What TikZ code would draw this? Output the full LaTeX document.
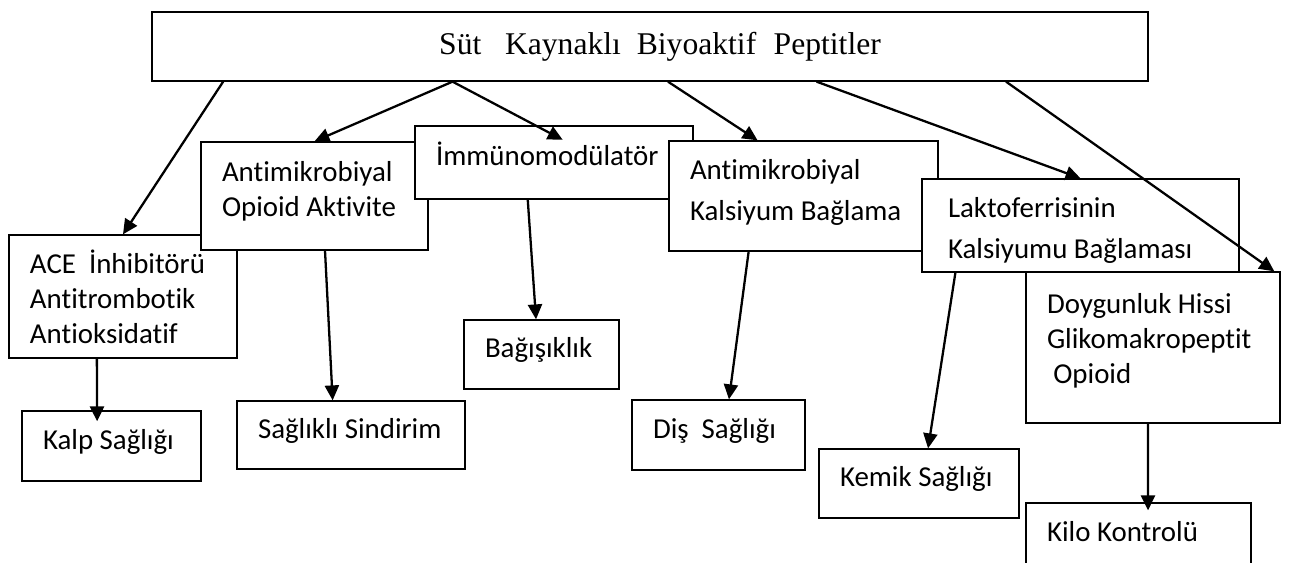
\documentclass[tikz,border=0pt]{standalone}
\usepackage{fontspec}
\setmainfont{Carlito}[Ligatures=NoCommon]
\newfontfamily\serifface{Liberation Serif}
\usetikzlibrary{calc,arrows.meta}
\newdimen\px \px=0.02cm
\hyphenpenalty=10000

\begin{document}
\begin{tikzpicture}[x=0.02cm, y=-0.02cm,
    bx/.style={draw, fill=white, line width=0.75pt, inner xsep=21\px, inner ysep=0pt,
      align=flush left, font=\fontsize{16.44}{20.1}\selectfont},
    oneline/.style={text height=14\px, text depth=8\px},
    arr/.style={-{Triangle[length=8.5pt, width=8pt]}, line width=1.3pt}]

    \useasboundingbox (0,0) rectangle (1290,563);
    \clip (0,0) rectangle (1290,563);

    % === Top box ===
    \node[draw, line width=0.75pt, minimum width=996\px, minimum height=69\px, inner sep=0pt,
      font=\serifface\fontsize{18}{22}\selectfont] (top) at (650,46.5)
      {\hspace*{20\px}Süt\hspace{0.75em}Kaynaklı\hspace{0.5em}Biyoaktif\hspace{0.55em}Peptitler};

    % === First row (later boxes lie over earlier ones) ===
    \node[bx, text width=186\px, minimum height=123\px, text height=24\px] (ace) at (123,296.5)
      {ACE~~İnhibitörü\\Antitrombotik\\Antioksidatif};
    \node[bx, text width=185\px, minimum height=108\px, text height=10\px] (opioid) at (314.5,196)
      {Antimikrobiyal\\Opioid~Aktivite};
    \node[bx, oneline, text width=236\px, minimum height=73\px] (imm) at (554,162.5)
      {İmmünomodülatör};
    \node[bx, text width=227\px, minimum height=110\px, text height=13.5\px] (akal) at (803.5,196)
      {Antimikrobiyal\\[5.5\px]Kalsiyum~Bağlama};
    \node[bx, inner xsep=26\px, text width=265\px, minimum height=93\px, text height=30.5\px] (lakto) at (1080.5,225.5)
      {Laktoferrisinin\\[5.5\px]Kalsiyumu~Bağlaması};
    \node[bx, text width=212\px, minimum height=151\px, text height=7\px] (doyg) at (1153,347.5)
      {Doygunluk~Hissi\\Glikomakropeptit\\\hspace*{0.22em}Opioid};

    % === Second row ===
    \node[bx, oneline, text width=137\px, minimum height=70\px] (kalp) at (111.5,446) {Kalp~Sağlığı};
    \node[bx, oneline, text width=186\px, minimum height=68\px] (sind) at (351,435) {Sağlıklı~Sindirim};
    \node[bx, oneline, text width=113\px, minimum height=69\px] (bag) at (541.5,354.5) {Bağışıklık};
    \node[bx, oneline, text width=131\px, minimum height=70\px] (dis) at (718.5,435) {Diş~~Sağlığı};
    \node[bx, oneline, text width=158\px, minimum height=69\px] (kemik) at (919,483.5) {Kemik~Sağlığı};
    \node[bx, oneline, text width=183\px, minimum height=70\px] (kilo) at (1138.5,538) {Kilo~Kontrolü};

    % === Arrows from the top box ===
    \draw[arr] ($(top.south west)!0.072!(top.south east)$) -- (ace.north);
    \draw[arr] ($(top.south west)!0.302!(top.south east)$) -- (opioid.north);
    \draw[arr, shorten >=-31\px] ($(top.south west)!0.302!(top.south east)$) -- ($(imm.north west)!0.433!(imm.north east)$);
    \draw[arr] ($(top.south west)!0.518!(top.south east)$) -- ($(akal.north west)!0.33!(akal.north east)$);
    \draw[arr] ($(top.south west)!0.667!(top.south east)$) -- (lakto.north);
    \draw[arr] ($(top.south west)!0.857!(top.south east)$) -- ($(doyg.north west)!0.975!(doyg.north east)$);

    % === Arrows to the second row ===
    \draw[arr, shorten >=-11\px] ($(ace.south west)!0.386!(ace.south east)$) -- ($(kalp.north west)!0.42!(kalp.north east)$);
    \draw[arr] ($(opioid.south west)!0.546!(opioid.south east)$) -- ($(sind.north west)!0.42!(sind.north east)$);
    \draw[arr] ($(imm.south west)!0.406!(imm.south east)$) -- ($(bag.north west)!0.465!(bag.north east)$);
    \draw[arr] ($(akal.south west)!0.297!(akal.south east)$) -- ($(dis.north west)!0.56!(dis.north east)$);
    \draw[arr] ($(lakto.south west)!0.107!(lakto.south east)$) -- ($(kemik.north west)!0.545!(kemik.north east)$);
    \draw[arr, shorten >=-8\px] ($(doyg.south west)!0.48!(doyg.south east)$) -- ($(kilo.north west)!0.542!(kilo.north east)$);

\end{tikzpicture}
\end{document}
